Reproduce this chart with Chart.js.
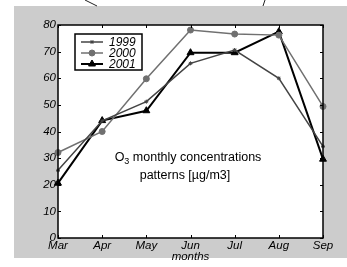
<!DOCTYPE html>
<html lang="en">
<head>
  <meta charset="UTF-8">
  <title>O3 monthly concentrations</title>
  <script src="https://cdn.jsdelivr.net/npm/chart.js"></script>
  <style>
    html, body { margin: 0; padding: 0; background: #fff; }
    canvas { display: block; }
  </style>
</head>
<body>
  <canvas id="ozoneChart" width="347" height="267"></canvas>

  <script>
    const months = ['Mar', 'Apr', 'May', 'Jun', 'Jul', 'Aug', 'Sep'];
    const yearLabels = ['1999', '2000', '2001'];
    const values1999 = [25.4, 44, 51.2, 65.6, 70.6, 60, 34.4];
    const values2000 = [32.1, 40, 59.8, 78.1, 76.6, 76.2, 49.4];
    const values2001 = [20.6, 44.1, 47.8, 69.6, 69.6, 77.5, 29.6];
    const yTicks = [0, 10, 20, 30, 40, 50, 60, 70, 80];

    const tickFont = { family: 'Liberation Sans', size: 11.5, style: 'italic' };

    // background, frame, inward ticks, legend and caption
    const matlabLook = {
      id: 'matlabLook',
      beforeDraw(chart) {
        const ctx = chart.ctx;
        const a = chart.chartArea;
        ctx.save();
        ctx.fillStyle = '#fff';
        ctx.fillRect(0, 0, chart.width, chart.height);
        ctx.fillStyle = '#cccccc';
        ctx.fillRect(14, 6, chart.width - 14, 252);
        ctx.fillStyle = '#fff';
        ctx.fillRect(a.left, a.top, a.right - a.left, a.bottom - a.top);
        // stray lines above the figure
        ctx.strokeStyle = '#222';
        ctx.lineWidth = 1;
        ctx.beginPath();
        ctx.moveTo(85, 0); ctx.lineTo(97, 6);
        ctx.moveTo(265, 0); ctx.lineTo(263, 6);
        ctx.stroke();
        ctx.restore();
      },
      afterDraw(chart) {
        const ctx = chart.ctx;
        const a = chart.chartArea;
        const x = chart.scales.x;
        const y = chart.scales.y;
        ctx.save();
        ctx.strokeStyle = '#000';
        ctx.lineWidth = 1;
        ctx.beginPath();
        months.forEach((m, i) => {
          const px = Math.round(x.getPixelForValue(i)) + 0.5;
          ctx.moveTo(px, a.bottom); ctx.lineTo(px, a.bottom - 3);
          ctx.moveTo(px, a.top); ctx.lineTo(px, a.top + 3);
        });
        yTicks.forEach(v => {
          const py = Math.round(y.getPixelForValue(v)) + 0.5;
          ctx.moveTo(a.left, py); ctx.lineTo(a.left + 3, py);
          ctx.moveTo(a.right, py); ctx.lineTo(a.right - 3, py);
        });
        ctx.stroke();
        ctx.lineWidth = 1.5;
        ctx.strokeRect(a.left, a.top, a.right - a.left, a.bottom - a.top);

        // legend
        ctx.fillStyle = '#fff';
        ctx.fillRect(75, 34, 67, 36);
        ctx.strokeStyle = '#000';
        ctx.lineWidth = 1.5;
        ctx.strokeRect(75, 34, 67, 36);
        chart.data.datasets.forEach((ds, i) => {
          const ly = 42 + i * 11;
          ctx.strokeStyle = ds.borderColor;
          ctx.fillStyle = ds.backgroundColor;
          ctx.lineWidth = ds.borderWidth;
          ctx.beginPath();
          ctx.moveTo(81, ly); ctx.lineTo(103, ly);
          ctx.stroke();
          ctx.lineWidth = 1;
          Chart.helpers.drawPoint(ctx, {
            pointStyle: ds.pointStyle, radius: ds.pointRadius, borderWidth: 1, rotation: 0
          }, 92, ly);
          ctx.fillStyle = '#000';
          ctx.font = 'italic 12px "Liberation Sans"';
          ctx.textBaseline = 'middle';
          ctx.textAlign = 'left';
          ctx.fillText(ds.label, 109, ly + 0.5);
        });

        // caption inside the axes
        const big = '12.5px "Liberation Sans"';
        const small = '9px "Liberation Sans"';
        ctx.fillStyle = '#000';
        ctx.textBaseline = 'alphabetic';
        ctx.textAlign = 'left';
        const line1a = 'O';
        const line1b = ' monthly concentrations';
        ctx.font = big;
        const wa = ctx.measureText(line1a).width;
        const wb = ctx.measureText(line1b).width;
        ctx.font = small;
        const ws = ctx.measureText('3').width;
        const sx = 188 - (wa + ws + wb) / 2;
        ctx.font = big;
        ctx.fillText(line1a, sx, 161);
        ctx.fillText(line1b, sx + wa + ws, 161);
        ctx.font = small;
        ctx.fillText('3', sx + wa, 164);
        ctx.font = big;
        ctx.textAlign = 'center';
        ctx.fillText('patterns [\u00b5g/m3]', 185, 179);

        // axis title
        ctx.font = 'italic 11.5px "Liberation Sans"';
        ctx.fillText('months', (a.left + a.right) / 2, 260);
        ctx.restore();
      }
    };

    new Chart(document.getElementById('ozoneChart'), {
      type: 'line',
      data: {
        labels: months,
        datasets: [
          { label: yearLabels[0], data: values1999, borderColor: '#444444', backgroundColor: '#444444',
            borderWidth: 1.5, pointStyle: 'star', pointRadius: 2, pointBorderWidth: 1, tension: 0 },
          { label: yearLabels[1], data: values2000, borderColor: '#707070', backgroundColor: '#707070',
            borderWidth: 1.5, pointStyle: 'circle', pointRadius: 3, pointBorderWidth: 1, tension: 0 },
          { label: yearLabels[2], data: values2001, borderColor: '#000000', backgroundColor: '#000000',
            borderWidth: 2, pointStyle: 'triangle', pointRadius: 4, pointBorderWidth: 1, tension: 0 }
        ]
      },
      options: {
        responsive: false,
        animation: false,
        layout: { padding: { left: 14, top: 25, right: 24, bottom: 6 } },
        plugins: { legend: { display: false }, tooltip: { enabled: false } },
        scales: {
          x: {
            offset: false,
            grid: { display: false, tickLength: 0 },
            border: { display: false },
            ticks: { color: '#000', font: tickFont, padding: 1, maxRotation: 0, autoSkip: false },
            afterFit(scale) { scale.height = 23; }
          },
          y: {
            min: 0, max: 80,
            grid: { display: false, tickLength: 0 },
            border: { display: false },
            ticks: { stepSize: 10, color: '#000', font: tickFont, padding: 2 },
            afterFit(scale) { scale.width = 44; }
          }
        }
      },
      plugins: [matlabLook]
    });
  </script>
</body>
</html>
